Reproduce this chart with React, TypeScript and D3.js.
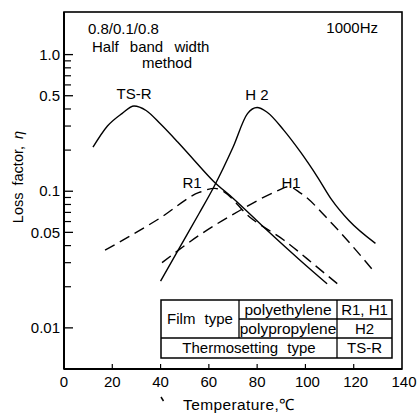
import React from "react";
import * as d3 from "d3";

// temperature (°C) / loss factor values
const tsrT = [12, 18, 24, 29, 34, 40, 47, 54, 62, 70, 84, 98, 109];
const tsrEta = [0.21, 0.3, 0.37, 0.42, 0.39, 0.31, 0.23, 0.168, 0.118, 0.089, 0.052, 0.031, 0.021];

const h2T = [40, 48, 56, 62, 70, 76, 80, 84, 91, 98, 105, 111, 118, 129];
const h2Eta = [0.022, 0.039, 0.069, 0.107, 0.21, 0.37, 0.41, 0.38, 0.28, 0.193, 0.127, 0.086, 0.061, 0.0415];

const r1T = [17, 40, 56, 62.5, 65, 77, 91, 105, 114];
const r1Eta = [0.037, 0.064, 0.098, 0.105, 0.102, 0.0645, 0.044, 0.0277, 0.0205];

const h1T = [40.6, 56, 73, 88, 93, 98, 111, 128];
const h1Eta = [0.03, 0.0476, 0.0726, 0.1, 0.108, 0.097, 0.058, 0.0264];

const xTicks = [0, 20, 40, 60, 80, 100, 120, 140];
const yMajor = [1.0, 0.5, 0.1, 0.05, 0.01];
const yMajorLabels = ["1.0", "0.5", "0.1", "0.05", "0.01"];
const yMinor = [0.9, 0.8, 0.7, 0.6, 0.4, 0.3, 0.2, 0.09, 0.08, 0.07, 0.06, 0.04, 0.03, 0.02];

const FONT = "'Liberation Sans', Arial, sans-serif";

const App = () => {
  const W = 417,
    H = 418;
  const left = 64,
    right = 402,
    top = 12,
    bottom = 369;

  const x = d3.scaleLinear().domain([0, 140]).range([left, right]);
  const y = d3.scaleLog().domain([0.005, 2.05]).range([bottom, top]);

  const line = d3
    .line<[number, number]>()
    .x((d) => x(d[0]))
    .y((d) => y(d[1]))
    .curve(d3.curveMonotoneX);

  const pts = (ts: number[], es: number[]) => ts.map((t, i) => [t, es[i]] as [number, number]);

  const curves = [
    { d: pts(tsrT, tsrEta), dash: null },
    { d: pts(h2T, h2Eta), dash: null },
    { d: pts(r1T, r1Eta), dash: "11,6" },
    { d: pts(h1T, h1Eta), dash: "11,6" },
  ];

  // legend table
  const tx0 = 161,
    tx1 = 239,
    tx2 = 337,
    tx3 = 392;
  const ty0 = 300,
    ty1 = 319,
    ty2 = 338,
    ty3 = 358;

  return (
    <svg
      width={W}
      height={H}
      style={{ position: "absolute", left: 0, top: 0, background: "#fff" }}
      fontFamily={FONT}
    >
      <rect x={0} y={0} width={W} height={H} fill="#fff" />

      {/* frame */}
      <rect x={left} y={top} width={right - left} height={bottom - top} fill="none" stroke="#000" strokeWidth={1.6} />
      <line x1={left} y1={top} x2={left} y2={bottom} stroke="#000" strokeWidth={2} />
      <line x1={left} y1={bottom} x2={right} y2={bottom} stroke="#000" strokeWidth={2} />

      {/* y ticks */}
      {yMajor.map((v, i) => (
        <g key={"ym" + v}>
          <line x1={left} x2={left + 9} y1={y(v)} y2={y(v)} stroke="#000" strokeWidth={1.3} />
          <text x={left - 4} y={y(v)} dy="0.35em" textAnchor="end" fontSize={15}>
            {yMajorLabels[i]}
          </text>
        </g>
      ))}
      {yMinor.map((v) => (
        <line key={"yn" + v} x1={left} x2={left + 7} y1={y(v)} y2={y(v)} stroke="#000" strokeWidth={1.2} />
      ))}

      {/* x ticks */}
      {xTicks.map((v) => (
        <g key={"x" + v}>
          {v > 0 && v < 140 && (
            <line x1={x(v)} x2={x(v)} y1={bottom} y2={bottom - 5} stroke="#000" strokeWidth={1.2} />
          )}
          <text x={x(v) + (v >= 100 ? 2 : 0)} y={bottom + 13} dy="0.35em" textAnchor="middle" fontSize={15}>
            {v}
          </text>
        </g>
      ))}

      {/* axis titles */}
      <line x1={161} y1={397} x2={163.5} y2={401} stroke="#000" strokeWidth={1.5} />
      <text x={183} y={405} dy="0.35em" fontSize={15.5} letterSpacing={0.4}>
        Temperature,℃
      </text>
      <text
        transform={`translate(18,177) rotate(-90)`}
        textAnchor="middle"
        dy="0.35em"
        fontSize={14.5}
        wordSpacing={3}
      >
        Loss factor, <tspan fontStyle="italic">η</tspan>
      </text>

      {/* curves */}
      {curves.map((c, i) => (
        <path
          key={i}
          d={line(c.d) || ""}
          fill="none"
          stroke="#000"
          strokeWidth={1.4}
          strokeDasharray={c.dash || undefined}
        />
      ))}

      {/* annotations */}
      <text x={88} y={29} dy="0.35em" fontSize={15}>
        0.8/0.1/0.8
      </text>
      <text x={92} y={47} dy="0.35em" fontSize={15} wordSpacing={7}>
        Half band width
      </text>
      <text x={142} y={63} dy="0.35em" fontSize={15}>
        method
      </text>
      <text x={378} y={28} dy="0.35em" textAnchor="end" fontSize={15}>
        1000Hz
      </text>
      <text x={134} y={94} dy="0.35em" textAnchor="middle" fontSize={15}>
        TS-R
      </text>
      <text x={257} y={95} dy="0.35em" textAnchor="middle" fontSize={15}>
        H 2
      </text>
      <text x={192} y={183} dy="0.35em" textAnchor="middle" fontSize={15}>
        R1
      </text>
      <text x={291} y={183} dy="0.35em" textAnchor="middle" fontSize={15}>
        H1
      </text>

      {/* table */}
      <rect x={tx0} y={ty0} width={tx3 - tx0} height={ty3 - ty0} fill="#fff" stroke="#000" strokeWidth={1.5} />
      <line x1={tx1} x2={tx1} y1={ty0} y2={ty2} stroke="#000" strokeWidth={1.3} />
      <line x1={tx2} x2={tx2} y1={ty0} y2={ty3} stroke="#000" strokeWidth={1.3} />
      <line x1={tx1} x2={tx3} y1={ty1} y2={ty1} stroke="#000" strokeWidth={1.3} />
      <line x1={tx0} x2={tx3} y1={ty2} y2={ty2} stroke="#000" strokeWidth={1.3} />
      <text x={(tx0 + tx1) / 2} y={(ty0 + ty2) / 2} dy="0.35em" textAnchor="middle" fontSize={15} wordSpacing={5}>
        Film type
      </text>
      <text x={(tx1 + tx2) / 2} y={(ty0 + ty1) / 2} dy="0.35em" textAnchor="middle" fontSize={15.5}>
        polyethylene
      </text>
      <text x={(tx1 + tx2) / 2} y={(ty1 + ty2) / 2} dy="0.35em" textAnchor="middle" fontSize={15.5}>
        polypropylene
      </text>
      <text x={(tx2 + tx3) / 2} y={(ty0 + ty1) / 2} dy="0.35em" textAnchor="middle" fontSize={15}>
        R1, H1
      </text>
      <text x={(tx2 + tx3) / 2} y={(ty1 + ty2) / 2} dy="0.35em" textAnchor="middle" fontSize={15}>
        H2
      </text>
      <text x={(tx0 + tx2) / 2} y={(ty2 + ty3) / 2} dy="0.35em" textAnchor="middle" fontSize={15} wordSpacing={5}>
        Thermosetting type
      </text>
      <text x={(tx2 + tx3) / 2} y={(ty2 + ty3) / 2} dy="0.35em" textAnchor="middle" fontSize={15}>
        TS-R
      </text>
    </svg>
  );
};

export default App;
